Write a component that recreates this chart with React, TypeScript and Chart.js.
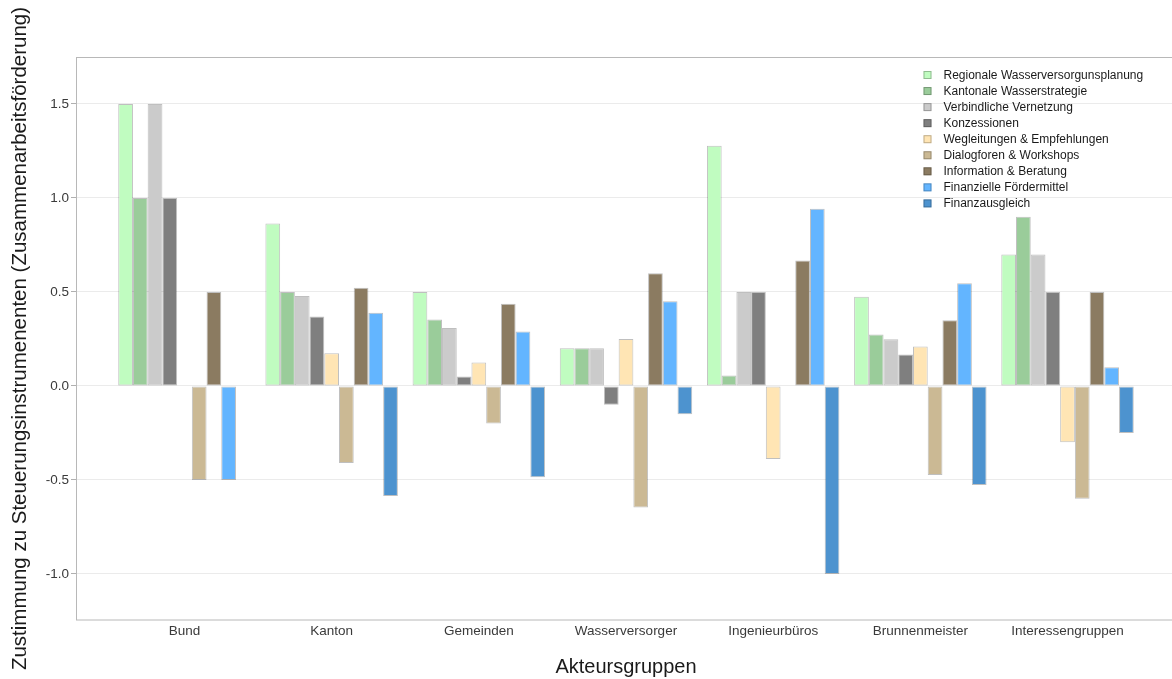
import React, { useEffect, useRef } from 'react';
import { Chart, registerables } from 'chart.js';

Chart.register(...registerables);

const categories = ['Bund', 'Kanton', 'Gemeinden', 'Wasserversorger', 'Ingenieurbüros', 'Brunnenmeister', 'Interessengruppen'];

const seriesNames = [
  'Regionale Wasserversorgunsplanung',
  'Kantonale Wasserstrategie',
  'Verbindliche Vernetzung',
  'Konzessionen',
  'Wegleitungen & Empfehlungen',
  'Dialogforen & Workshops',
  'Information & Beratung',
  'Finanzielle Fördermittel',
  'Finanzausgleich',
];

const regionale = [1.5, 0.864, 0.5, 0.2, 1.278, 0.474, 0.7];
const kantonale = [1.0, 0.5, 0.353, 0.2, 0.056, 0.274, 0.9];
const verbindliche = [1.5, 0.478, 0.308, 0.2, 0.5, 0.248, 0.7];
const konzessionen = [1.0, 0.37, 0.05, -0.1, 0.5, 0.167, 0.5];
const wegleitungen = [null, 0.174, 0.125, 0.25, -0.389, 0.21, -0.3];
const dialogforen = [-0.5, -0.41, -0.2, -0.647, null, -0.474, -0.6];
const information = [0.5, 0.522, 0.437, 0.6, 0.667, 0.35, 0.5];
const finanzielle = [-0.5, 0.39, 0.29, 0.45, 0.943, 0.547, 0.1];
const finanzausgleich = [null, -0.586, -0.486, -0.15, -1.0, -0.527, -0.25];

const seriesValues = [regionale, kantonale, verbindliche, konzessionen, wegleitungen, dialogforen, information, finanzielle, finanzausgleich];

const seriesColors = ['#c0fcc0', '#9acc9a', '#cbcbcb', '#7f7f7f', '#ffe5b4', '#cbb994', '#8b7b61', '#63b5ff', '#4d93cf'];

const yTicks = [-1.0, -0.5, 0.0, 0.5, 1.0, 1.5];

const FONT = 'Arial, "Liberation Sans", Helvetica, sans-serif';

const framePlugin = {
  id: 'panelFrame',
  afterDatasetsDraw(chart: any) {
    const { ctx, chartArea } = chart;
    const { left, top, right, bottom } = chartArea;
    ctx.save();
    ctx.strokeStyle = '#b8b8b8';
    ctx.lineWidth = 1;
    ctx.strokeRect(left + 0.5, top + 0.5, right - left, bottom - top - 0.5);
    ctx.restore();
  },
};

const legendPlugin = {
  id: 'insideLegend',
  afterDraw(chart: any) {
    const { ctx, chartArea } = chart;
    const x0 = chartArea.right - 252.5;
    const y0 = chartArea.top + 18;
    ctx.save();
    ctx.font = `12px ${FONT}`;
    ctx.textBaseline = 'middle';
    ctx.textAlign = 'left';
    chart.data.datasets.forEach((ds: any, i: number) => {
      const y = y0 + i * 16.05;
      ctx.fillStyle = ds.backgroundColor;
      ctx.fillRect(x0, y - 4, 8, 8);
      ctx.strokeStyle = 'rgba(0,0,0,0.25)';
      ctx.lineWidth = 1;
      ctx.strokeRect(x0 + 0.5, y - 3.5, 7, 7);
      ctx.fillStyle = '#1a1a1a';
      ctx.fillText(ds.label, x0 + 20, y + 0.5);
    });
    ctx.restore();
  },
};

export default function App() {
  const canvasRef = useRef<HTMLCanvasElement | null>(null);

  useEffect(() => {
    const canvas = canvasRef.current;
    if (!canvas) return;
    const datasets = seriesNames.map((name, s) => ({
      label: name,
      data: seriesValues[s].map((v, i) => ({ x: i, y: v })),
      backgroundColor: seriesColors[s],
      borderColor: 'rgba(0,0,0,0.25)',
      borderWidth: 1,
      borderSkipped: false,
      categoryPercentage: 0.9,
      barPercentage: 1.0,
    }));

    const chart = new Chart(canvas, {
      type: 'bar',
      data: { datasets: datasets as any },
      plugins: [framePlugin, legendPlugin],
      options: {
        animation: false,
        responsive: false,
        devicePixelRatio: 1,
        layout: { padding: { top: 57, left: 0, right: 0, bottom: 0 } },
        plugins: {
          legend: { display: false },
          tooltip: { enabled: false },
          title: { display: false },
        },
        scales: {
          x: {
            type: 'linear',
            offset: false,
            min: -0.737,
            max: 6.737,
            afterBuildTicks: (scale: any) => {
              scale.ticks = categories.map((_, i) => ({ value: i }));
            },
            afterFit: (scale: any) => {
              scale.height = 59;
            },
            grid: { display: false, drawTicks: false, offset: false },
            border: { display: false },
            ticks: {
              autoSkip: false,
              maxRotation: 0,
              minRotation: 0,
              padding: 3,
              color: '#3a3a3a',
              font: { family: FONT, size: 13.5 },
              callback: (v: any) => categories[Math.round(Number(v))] ?? '',
            },
            title: {
              display: true,
              text: 'Akteursgruppen',
              color: '#1a1a1a',
              font: { family: FONT, size: 20 },
              padding: { top: 0, bottom: 0 },
            },
          },
          y: {
            type: 'linear',
            min: -1.245,
            max: 1.75,
            afterBuildTicks: (scale: any) => {
              scale.ticks = yTicks.map((v) => ({ value: v }));
            },
            afterFit: (scale: any) => {
              scale.width = 76;
            },
            grid: {
              color: '#ebebeb',
              lineWidth: 1,
              drawTicks: true,
              tickLength: 5,
              tickColor: '#b0b0b0',
            },
            border: { display: false },
            ticks: {
              padding: 2,
              color: '#3a3a3a',
              font: { family: FONT, size: 13.5 },
              callback: (v: any) => Number(v).toFixed(1),
            },
            title: {
              display: true,
              text: 'Zustimmung zu Steuerungsinstrumenenten (Zusammenarbeitsförderung)',
              color: '#1a1a1a',
              font: { family: FONT, size: 20.5 },
              padding: { top: 8, bottom: 0 },
            },
          },
        },
      },
    });
    return () => chart.destroy();
  }, []);

  return (
    <div style={{ position: 'fixed', left: 0, top: 0, width: 1172, height: 679, overflow: 'hidden', background: '#ffffff' }}>
      <canvas ref={canvasRef} width={1176} height={679} style={{ width: 1176, height: 679, display: 'block' }} />
    </div>
  );
}
